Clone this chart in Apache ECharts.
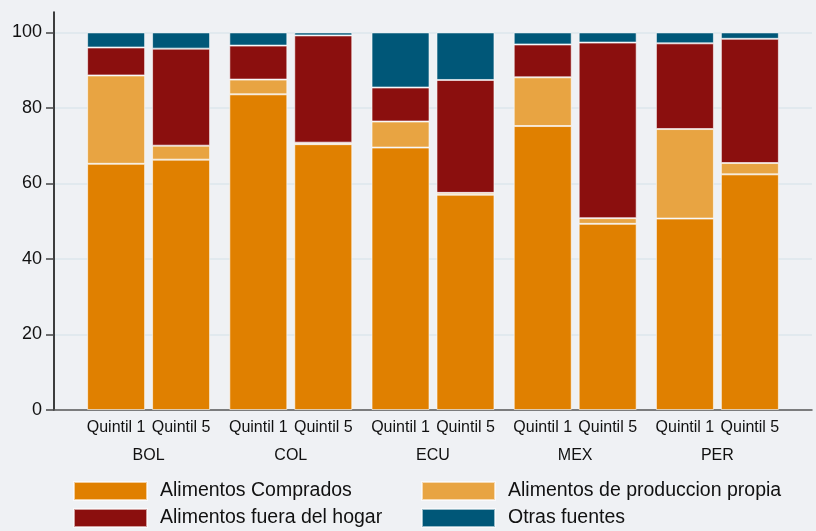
<!DOCTYPE html>
<html>
<head>
<meta charset="utf-8">
<script src="https://cdn.jsdelivr.net/npm/echarts@6/dist/echarts.min.js"></script>
<style>
html,body{margin:0;padding:0;background:#eff1f4;}
#c{width:816px;height:531px;}
</style>
</head>
<body>
<div id="c"></div>
<script>
const countries = ['BOL', 'COL', 'ECU', 'MEX', 'PER'];
const quintiles = ['Quintil 1', 'Quintil 5'];
const seriesNames = ['Alimentos Comprados', 'Alimentos de produccion propia', 'Alimentos fuera del hogar', 'Otras fuentes'];
const yTicks = [0, 20, 40, 60, 80, 100];

const compradosQ1 = [65.2, 83.6, 69.5, 75.2, 50.7];
const compradosQ5 = [66.3, 70.4, 57.0, 49.3, 62.4];
const propiaQ1    = [23.4, 3.9, 6.9, 12.9, 23.7];
const propiaQ5    = [3.7, 0.4, 0.5, 1.5, 3.0];
const fueraQ1     = [7.4, 9.0, 9.0, 8.7, 22.7];
const fueraQ5     = [25.7, 28.4, 29.9, 46.5, 32.9];
const otrasQ1     = [4.0, 3.5, 14.6, 3.2, 2.9];
const otrasQ5     = [4.3, 0.8, 12.6, 2.7, 1.7];

const colors = ['#e08000', '#e8a442', '#8b0f0e', '#005778'];
const q1Data = [compradosQ1, propiaQ1, fueraQ1, otrasQ1];
const q5Data = [compradosQ5, propiaQ5, fueraQ5, otrasQ5];

const YMAX = 105.4;
const font = "'Liberation Sans', Arial, sans-serif";

const series = [];
[q1Data, q5Data].forEach((set, qi) => {
  set.forEach((vals, si) => {
    series.push({
      name: seriesNames[si],
      type: 'bar',
      xAxisIndex: 1,
      yAxisIndex: 1,
      stack: 'q' + qi,
      barWidth: 58,
      barGap: '12%',
      data: vals,
      itemStyle: { color: colors[si], borderColor: 'rgba(255,255,255,0.6)', borderWidth: 1 },
      emphasis: { disabled: true }
    });
  });
});

const chart = echarts.init(document.getElementById('c'), null, { renderer: 'canvas' });
const legendCommon = {
  orient: 'vertical',
  padding: 0,
  height: 60,
  itemWidth: 73,
  itemHeight: 18,
  itemGap: 7,
  icon: 'rect',
  selectedMode: false,
  textStyle: { fontFamily: font, fontSize: 19.5, lineHeight: 18, color: '#111', padding: [0, 0, 0, 8] }
};
chart.setOption({
  backgroundColor: '#eff1f4',
  animation: false,
  color: colors,
  grid: [
    { left: 54, right: 4, top: 12, bottom: 121, containLabel: false },
    { left: 77.5, right: 27.5, top: 12, bottom: 121, containLabel: false }
  ],
  legend: [
    Object.assign({ left: 73, top: 481, data: [seriesNames[0], seriesNames[2]] }, legendCommon),
    Object.assign({ left: 421, top: 481, data: [seriesNames[1], seriesNames[3]] }, legendCommon)
  ],
  xAxis: [
    {
      gridIndex: 0, type: 'value', min: 0, max: 1,
      axisLine: { show: true, onZero: false, lineStyle: { color: '#555', width: 1.5 } },
      axisTick: { show: false }, axisLabel: { show: false }, splitLine: { show: false }
    },
    {
      gridIndex: 1, type: 'category', data: countries,
      axisLine: { show: false }, axisTick: { show: false }, splitLine: { show: false },
      axisLabel: {
        margin: 4,
        interval: 0,
        formatter: function (v) {
          return '{q|' + quintiles[0] + '}{q|' + quintiles[1] + '}\n{c|' + v + '}';
        },
        rich: {
          q: { fontFamily: font, fontSize: 16, color: '#111', width: 65, align: 'center', lineHeight: 28 },
          c: { fontFamily: font, fontSize: 16, color: '#111', lineHeight: 28, align: 'center' }
        }
      }
    }
  ],
  yAxis: [
    {
      gridIndex: 0, type: 'value', min: 0, max: YMAX, interval: 20,
      axisLine: { show: true, lineStyle: { color: '#000', width: 1.5 } },
      axisTick: { show: true, length: 8, lineStyle: { color: '#444', width: 1.5 }, customValues: yTicks },
      axisLabel: {
        margin: 12, fontFamily: font, fontSize: 18, color: '#111', customValues: yTicks,
        formatter: function (v) { return yTicks.indexOf(v) >= 0 ? String(v) : ''; }
      },
      splitLine: { show: true, showMinLine: false, lineStyle: { color: '#dce6ec', width: 1.5 } }
    },
    {
      gridIndex: 1, type: 'value', min: 0, max: YMAX, show: false, splitLine: { show: false }
    }
  ],
  series: series
});
</script>
</body>
</html>
